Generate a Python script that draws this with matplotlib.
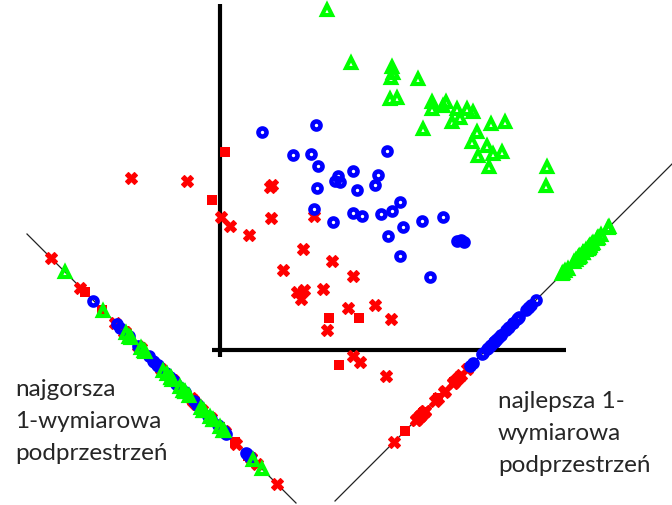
import numpy as np
import matplotlib
matplotlib.use("Agg")
import matplotlib.pyplot as plt

# ---- data (pixel-space coordinates of the 2-D sample, y grows downward) ----
green_x = [327, 351, 392, 393, 391, 418, 390, 397, 432, 432, 443, 446, 457, 467, 473,
           460, 452, 423, 491, 505, 477, 472, 487, 478, 502, 493, 489, 547, 546]
green_y = [11, 64, 68, 74, 79, 80, 100, 99, 103, 110, 107, 103, 110, 110, 113,
           119, 123, 130, 125, 123, 133, 143, 147, 157, 153, 155, 168, 168, 187]

blue_x = [262, 316, 293, 311, 318, 387, 338, 340, 335, 353, 378, 375, 317, 357, 314,
          333, 353, 362, 381, 392, 400, 403, 388, 422, 443, 457, 461, 464, 400, 430]
blue_y = [133, 126, 156, 155, 167, 152, 177, 183, 182, 172, 176, 186, 189, 191, 210,
          223, 214, 217, 215, 212, 203, 228, 237, 222, 218, 242, 241, 243, 257, 278]

red_x = [225, 131, 187, 212, 272, 270, 221, 230, 249, 271, 314, 303, 332, 283, 353,
         297, 304, 301, 323, 348, 375, 329, 359, 391, 327, 353, 360, 339, 386]
red_y = [153, 179, 182, 201, 186, 188, 218, 227, 236, 219, 217, 250, 262, 271, 277,
         293, 291, 300, 290, 309, 306, 319, 319, 320, 331, 357, 363, 366, 377]
red_marker = ['s', 'X', 'X', 's', 'X', 'X', 'X', 'X', 'X', 'X', 'X', 'X', 'X', 'X', 'X',
              'X', 'X', 'X', 'X', 'X', 'X', 's', 's', 'X', 'X', 'X', 'X', 's', 'X']

label_worst = ["najgorsza", "1-wymiarowa", "podprzestrzeń"]
label_best = ["najlepsza 1-", "wymiarowa", "podprzestrzeń"]

# subspaces: y = intercept + slope * x  (pixel space)
best_slope, best_icpt = -1.0, 837.0
worst_slope, worst_icpt = 1.0, 208.0

GREEN, BLUE, RED = '#00ff00', '#0000ff', '#ff0000'
TXT = '#262626'

fig = plt.figure(figsize=(6.72, 5.06), dpi=100)
ax = fig.add_axes([0, 0, 1, 1])
ax.set_xlim(0, 672)
ax.set_ylim(506, 0)
ax.axis('off')


def project(xs, ys, slope, icpt):
    xs = np.asarray(xs, float)
    ys = np.asarray(ys, float)
    p0 = np.array([0.0, icpt])
    u = np.array([1.0, slope]) / np.hypot(1.0, slope)
    t = (xs - p0[0]) * u[0] + (ys - p0[1]) * u[1]
    return p0[0] + t * u[0], p0[1] + t * u[1]


# subspace lines
ax.plot([335, 672], [best_icpt + best_slope * 335, best_icpt + best_slope * 672],
        color='#222222', lw=0.9, zorder=1)
ax.plot([27, 296], [worst_icpt + worst_slope * 27, worst_icpt + worst_slope * 296],
        color='#222222', lw=0.9, zorder=1)

# coordinate axes
ax.plot([220, 220], [5, 358], color='black', lw=3.0, zorder=2, solid_capstyle='butt')
ax.plot([212, 566], [351, 351], color='black', lw=3.0, zorder=2, solid_capstyle='butt')

circ = dict(marker='o', ms=5.8, mew=3.3, mfc='none', mec=BLUE, ls='none')
tri = dict(marker='^', ms=7.8, mew=3.0, mfc='none', mec=GREEN, ls='none')


def draw_red(xs, ys, z):
    for x, y, m in zip(xs, ys, red_marker):
        if m == 's':
            ax.plot(x, y, marker='s', ms=6.8, mew=0, color=RED, ls='none', zorder=z)
        else:
            ax.plot(x, y, marker='X', ms=8.0, mew=0.8, color=RED, ls='none', zorder=z)


# original 2-D scatter
draw_red(red_x, red_y, 3)
ax.plot(blue_x, blue_y, zorder=4, **circ)
ax.plot(green_x, green_y, zorder=4, **tri)

# projections on both subspaces
for slope, icpt in [(best_slope, best_icpt), (worst_slope, worst_icpt)]:
    rx, ry = project(red_x, red_y, slope, icpt)
    bx, by = project(blue_x, blue_y, slope, icpt)
    gx, gy = project(green_x, green_y, slope, icpt)
    draw_red(rx, ry, 3)
    ax.plot(bx, by, zorder=4, **circ)
    ax.plot(gx, gy, zorder=5, **tri)

for i, s in enumerate(label_worst):
    ax.text(15, 396 + 32 * i, s, fontsize=17.5, family='Lato', color=TXT,
            ha='left', va='baseline')
for i, s in enumerate(label_best):
    ax.text(498, 408 + 32 * i, s, fontsize=17.5, family='Lato', color=TXT,
            ha='left', va='baseline')

fig.savefig('out.png', dpi=100)
